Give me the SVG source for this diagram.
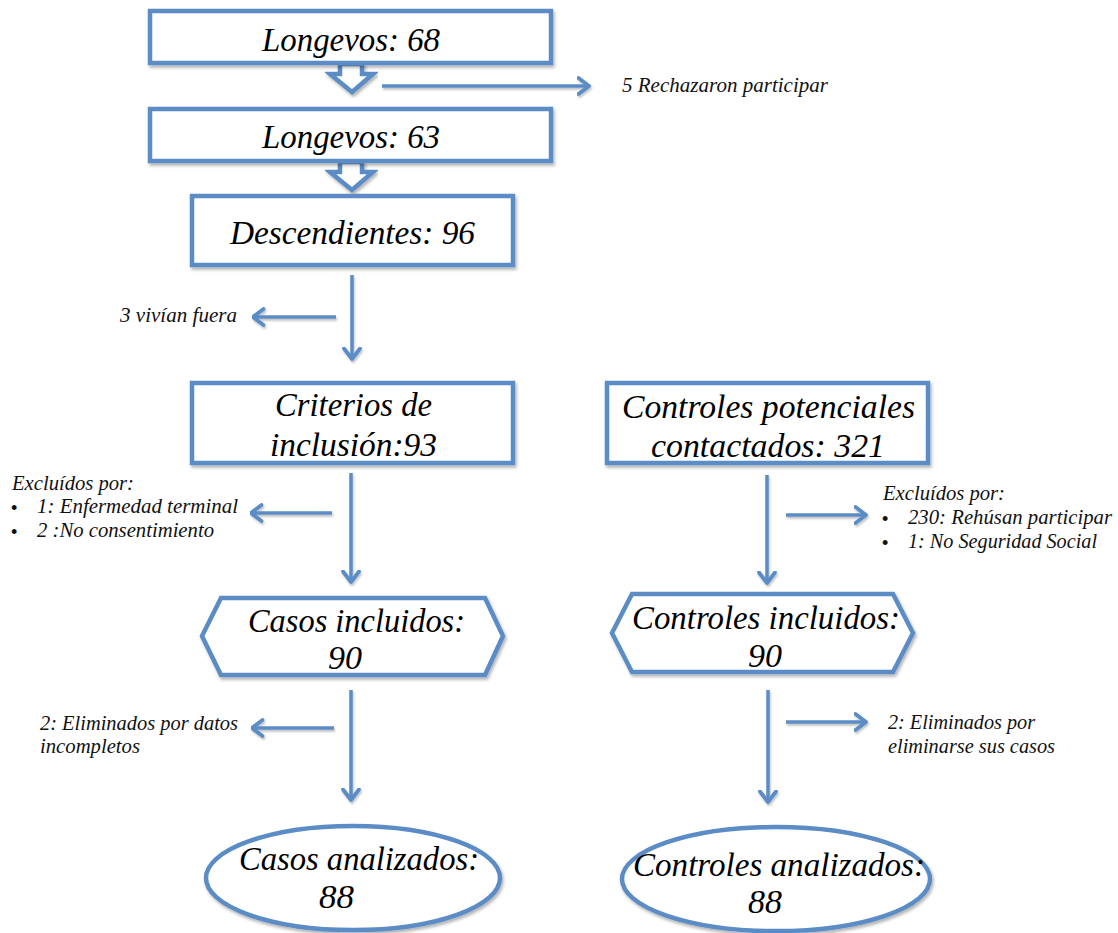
<svg xmlns="http://www.w3.org/2000/svg" width="1118" height="933" viewBox="0 0 1118 933">
<style>
.shape{fill:#ffffff;stroke:#5b8cc6;stroke-width:4.5;filter:url(#sh)}
.conn{stroke:#5b8cc6;stroke-width:3.5;fill:none;marker-end:url(#ah);filter:url(#sh2)}
.big{font-family:"Liberation Serif",serif;font-style:italic;font-size:34px;fill:#000}
.small{font-family:"Liberation Serif",serif;font-style:italic;font-size:21px;fill:#111}
.bul{font-family:"Liberation Sans",sans-serif;font-size:18px;fill:#111}
</style>
<defs>
<filter id="sh" x="-10%" y="-10%" width="120%" height="130%">
<feDropShadow dx="1.5" dy="2.5" stdDeviation="1.8" flood-color="#000" flood-opacity="0.3"/>
</filter>
<filter id="sh2" filterUnits="userSpaceOnUse" x="0" y="0" width="1118" height="933">
<feDropShadow dx="1" dy="2" stdDeviation="1.2" flood-color="#000" flood-opacity="0.25"/>
</filter>
<marker id="ah" viewBox="0 0 14 20" refX="12.5" refY="10" markerWidth="14" markerHeight="20" markerUnits="userSpaceOnUse" orient="auto">
<path d="M2,2 L12.5,10 L2,18" fill="none" stroke="#5b8cc6" stroke-width="3.8" stroke-linecap="round" stroke-linejoin="round"/>
</marker>
</defs>
<rect width="1118" height="933" fill="#ffffff"/>

<g id="connectors">
<polygon class="shape" points="340,64 362,64 362,74 373,74 352,92 330,74 340,74"/>
<polygon class="shape" points="340,162 362,162 362,172 373,172 352,190 330,172 340,172"/>
<line class="conn" x1="382" y1="86" x2="589" y2="86"/>
<line class="conn" x1="352" y1="275" x2="352" y2="359"/>
<line class="conn" x1="336" y1="317" x2="253" y2="317"/>
<line class="conn" x1="351" y1="473" x2="351" y2="582"/>
<line class="conn" x1="332" y1="513" x2="251" y2="513"/>
<line class="conn" x1="767" y1="475" x2="767" y2="583"/>
<line class="conn" x1="786" y1="515" x2="866" y2="515"/>
<line class="conn" x1="351" y1="690" x2="351" y2="800"/>
<line class="conn" x1="334" y1="728" x2="252" y2="728"/>
<line class="conn" x1="768" y1="690" x2="768" y2="802"/>
<line class="conn" x1="786" y1="722" x2="866" y2="722"/>
</g>

<g id="n1">
<rect class="shape" x="150" y="11" width="401" height="52"/>
<text class="big" x="262" y="51" textLength="178" lengthAdjust="spacingAndGlyphs">Longevos: 68</text>
</g>
<g id="n2">
<rect class="shape" x="150" y="109" width="401" height="52"/>
<text class="big" x="262" y="148" textLength="178" lengthAdjust="spacingAndGlyphs">Longevos: 63</text>
</g>
<g id="n3">
<rect class="shape" x="192" y="196" width="321" height="69"/>
<text class="big" x="230" y="244" textLength="245" lengthAdjust="spacingAndGlyphs">Descendientes: 96</text>
</g>
<g id="n4">
<rect class="shape" x="192" y="383" width="321" height="80"/>
<text class="big" x="275" y="416" textLength="157" lengthAdjust="spacingAndGlyphs">Criterios de</text>
<text class="big" x="270" y="456" textLength="167" lengthAdjust="spacingAndGlyphs">inclusión:93</text>
</g>
<g id="n5">
<rect class="shape" x="607" y="383" width="321" height="80"/>
<text class="big" x="622" y="418" textLength="293" lengthAdjust="spacingAndGlyphs">Controles potenciales</text>
<text class="big" x="651" y="457" textLength="234" lengthAdjust="spacingAndGlyphs">contactados: 321</text>
</g>
<g id="n6">
<polygon class="shape" points="221,598 485,598 503,636 485,675 221,675 202,636"/>
<text class="big" x="248" y="632" textLength="217" lengthAdjust="spacingAndGlyphs">Casos incluidos:</text>
<text class="big" x="328" y="669" textLength="34" lengthAdjust="spacingAndGlyphs">90</text>
</g>
<g id="n7">
<polygon class="shape" points="632,594 893,594 913,633 893,672 632,672 612,633"/>
<text class="big" x="632" y="629" textLength="268" lengthAdjust="spacingAndGlyphs">Controles incluidos:</text>
<text class="big" x="748" y="667" textLength="34" lengthAdjust="spacingAndGlyphs">90</text>
</g>
<g id="n8">
<ellipse class="shape" cx="353" cy="878" rx="147" ry="52"/>
<text class="big" x="239" y="870" textLength="240" lengthAdjust="spacingAndGlyphs">Casos analizados:</text>
<text class="big" x="319" y="908" textLength="35" lengthAdjust="spacingAndGlyphs">88</text>
</g>
<g id="n9">
<ellipse class="shape" cx="776" cy="879" rx="154" ry="52"/>
<text class="big" x="633" y="876" textLength="292" lengthAdjust="spacingAndGlyphs">Controles analizados:</text>
<text class="big" x="748" y="913" textLength="34" lengthAdjust="spacingAndGlyphs">88</text>
</g>

<g id="labels">
<text class="small" x="622" y="92" textLength="206" lengthAdjust="spacingAndGlyphs">5 Rechazaron participar</text>
<text class="small" x="120" y="322" textLength="117" lengthAdjust="spacingAndGlyphs">3 vivían fuera</text>
<text class="small" x="12" y="490" textLength="122" lengthAdjust="spacingAndGlyphs">Excluídos por:</text>
<text class="bul" x="11" y="514">•</text>
<text class="small" x="37" y="513" textLength="201" lengthAdjust="spacingAndGlyphs">1: Enfermedad terminal</text>
<text class="bul" x="11" y="538">•</text>
<text class="small" x="37" y="537" textLength="177" lengthAdjust="spacingAndGlyphs">2 :No consentimiento</text>
<text class="small" x="883" y="500" textLength="122" lengthAdjust="spacingAndGlyphs">Excluídos por:</text>
<text class="bul" x="882" y="525">•</text>
<text class="small" x="908" y="524" textLength="204" lengthAdjust="spacingAndGlyphs">230: Rehúsan participar</text>
<text class="bul" x="882" y="549">•</text>
<text class="small" x="908" y="548" textLength="189" lengthAdjust="spacingAndGlyphs">1: No Seguridad Social</text>
<text class="small" x="40" y="730" textLength="198" lengthAdjust="spacingAndGlyphs">2: Eliminados por datos</text>
<text class="small" x="40" y="753" textLength="100" lengthAdjust="spacingAndGlyphs">incompletos</text>
<text class="small" x="888" y="729" textLength="147" lengthAdjust="spacingAndGlyphs">2: Eliminados por</text>
<text class="small" x="888" y="753" textLength="167" lengthAdjust="spacingAndGlyphs">eliminarse sus casos</text>
</g>
</svg>
